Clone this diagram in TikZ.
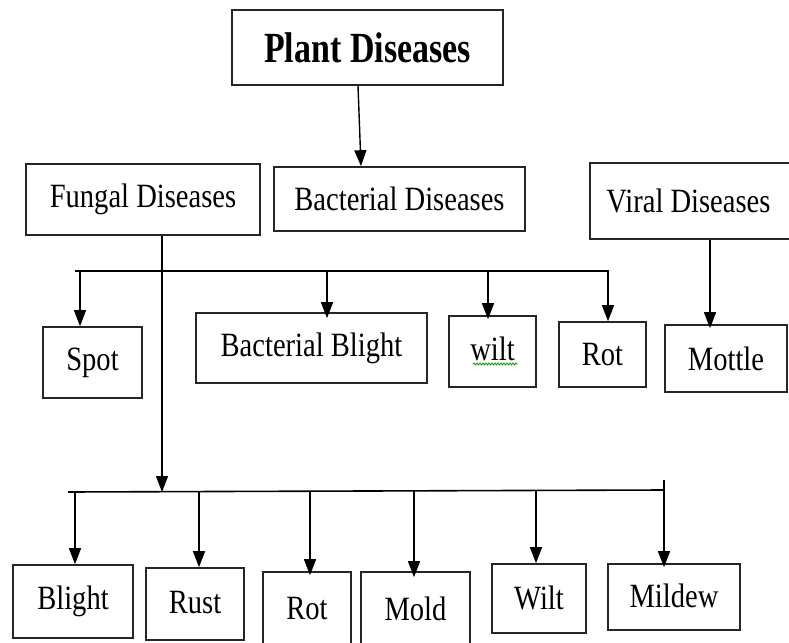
\documentclass[tikz,border=0pt]{standalone}
\usepackage{fontspec}
\setmainfont{Liberation Serif}[FakeStretch=0.84]
\newfontfamily\plantfont{Liberation Serif}[FakeStretch=0.79]
\usetikzlibrary{arrows.meta,decorations.pathmorphing}
\begin{document}
\begin{tikzpicture}[x=1pt,y=-1pt,
  box/.style={draw=black!85,line width=1.6pt,rectangle,inner sep=0pt,align=center,
    font=\fontsize{34}{38}\selectfont},
  arr/.style={line width=1.4pt,-{Triangle[length=16pt,width=12pt]}},
  bar/.style={line width=1.6pt}]
\useasboundingbox (0,0) rectangle (789,642);
\fill[white] (0,0) rectangle (789,642);
% top level
\node[box,minimum width=271pt,minimum height=75pt,font=\plantfont\fontsize{43}{48}\selectfont\bfseries] (plant) at (367.5,47.5) {Plant Diseases};
\node[box,minimum width=234pt,minimum height=71pt] (fungal) at (143,199.5) {Fungal Diseases};
\node[box,minimum width=251pt,minimum height=64pt] (bact) at (399.5,199) {Bacterial Diseases};
\node[box,minimum width=205pt,minimum height=76pt] (viral) at (692.5,201) {\hspace*{-8pt}Viral Diseases};
% middle row
\node[box,minimum width=99pt,minimum height=71pt] (spot) at (92.5,362.5) {Spot};
\node[box,minimum width=231pt,minimum height=70pt] (bblight) at (311.5,348) {\raisebox{5pt}{Bacterial Blight}};
\node[box,minimum width=87pt,minimum height=71pt] (wiltA) at (492.5,351.5) {\raisebox{6pt}{wilt}};
\node[box,minimum width=87pt,minimum height=65pt] (rotA) at (602.5,354.5) {Rot};
\node[box,minimum width=122pt,minimum height=67pt] (mottle) at (726,358.5) {Mottle};
% bottom row
\node[box,minimum width=120pt,minimum height=73pt] (blight) at (73,601.5) {\raisebox{4pt}{Blight}};
\node[box,minimum width=98pt,minimum height=72pt] (rust) at (195,604) {\raisebox{4pt}{Rust}};
\node[box,minimum width=88pt,minimum height=73pt] (rotB) at (307,608.5) {Rot};
\node[box,minimum width=109pt,minimum height=73pt] (mold) at (415.5,608.5) {Mold};
\node[box,minimum width=94pt,minimum height=69pt] (wiltB) at (539,598.5) {\raisebox{2pt}{Wilt}};
\node[box,minimum width=132pt,minimum height=66pt] (mildew) at (674,597) {\raisebox{2pt}{Mildew}};
% spell-check squiggle under wilt
\coordinate (sqA) at (473,364);
\coordinate (sqB) at (518,364);
\draw[green!60!black,line width=0.8pt,decorate,decoration={snake,amplitude=1pt,segment length=3pt}] (sqA) -- (sqB);
% Plant -> Bacterial
\coordinate (pa) at (358,0);
\coordinate (pb) at (361,0);
\draw[arr] (plant.south -| pa) -- (bact.north -| pb);
% bars
\coordinate (b1L) at (75,271);
\coordinate (b1R) at (609,271);
\draw[bar] (b1L) -- (b1R);
\coordinate (b2L) at (68,492);
\coordinate (b2R) at (664,490);
\draw[bar] (b2L) -- (b2R);
% fungal line down through top bar to bottom bar
\coordinate (fx) at (162,0);
\draw[arr] (fungal.south -| fx) -- (fx |- b2L);
% drops from top bar
\coordinate (d1) at (80,271);
\coordinate (d2) at (327,271);
\coordinate (d3) at (488,271);
\coordinate (d4) at (608,271);
\draw[arr] (d1) -- (d1 |- spot.north);
\draw[arr] (d2) -- ([yshift=-6pt]d2 |- bblight.north);
\draw[arr] (d3) -- ([yshift=-4pt]d3 |- wiltA.north);
\draw[arr] (d4) -- (d4 |- rotA.north);
% viral
\coordinate (vx) at (710,0);
\draw[arr] (viral.south -| vx) -- ([yshift=-4pt]vx |- mottle.north);
% drops from bottom bar
\coordinate (e1) at (75,492);
\coordinate (e2) at (199,492);
\coordinate (e3) at (310,491);
\coordinate (e4) at (414,491);
\coordinate (e5) at (536,490);
\coordinate (e6) at (664,480);
\draw[arr] (e1) -- (e1 |- blight.north);
\draw[arr] (e2) -- (e2 |- rust.north);
\draw[arr] (e3) -- ([yshift=-4pt]e3 |- rotB.north);
\draw[arr] (e4) -- ([yshift=-6pt]e4 |- mold.north);
\draw[arr] (e5) -- (e5 |- wiltB.north);
\draw[arr] (e6) -- ([yshift=-4pt]e6 |- mildew.north);
\end{tikzpicture}
\end{document}
